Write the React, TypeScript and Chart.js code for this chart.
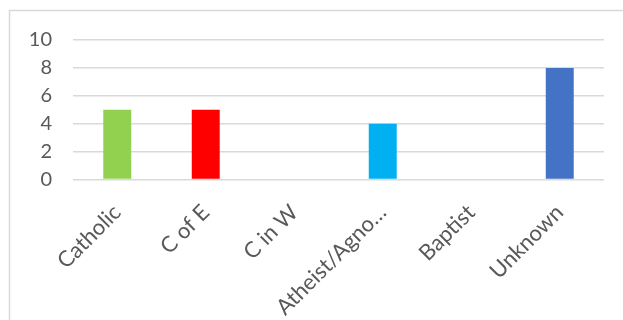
import React, { useEffect, useRef } from "react";
import { Chart, registerables } from "chart.js";

Chart.register(...registerables);

const categories = ["Catholic", "C of E", "C in W", "Atheist/Agno…", "Baptist", "Unknown"];
const values = [5, 5, 0, 4, 0, 8];
const barColors = ["#92D050", "#FF0000", "#FFC000", "#00B0F0", "#7030A0", "#4472C4"];
const yTicks = [0, 2, 4, 6, 8, 10];

const FONT = "Lato, 'Open Sans', sans-serif";

const borderPlugin = {
  id: "outerBorder",
  beforeDraw(chart: any) {
    const ctx = chart.ctx;
    ctx.save();
    ctx.strokeStyle = "#D9D9D9";
    ctx.lineWidth = 1.5;
    ctx.beginPath();
    ctx.moveTo(9.5, 400);
    ctx.lineTo(9.5, 10.5);
    ctx.lineTo(700, 10.5);
    ctx.stroke();
    ctx.restore();
  },
};

export default function App() {
  const ref = useRef<HTMLCanvasElement>(null);
  useEffect(() => {
    if (!ref.current) return;
    const chart = new Chart(ref.current, {
      type: "bar",
      data: {
        labels: categories,
        datasets: [
          {
            data: values,
            backgroundColor: barColors,
            categoryPercentage: 1,
            barPercentage: 0.316,
          },
        ],
      },
      options: {
        responsive: false,
        animation: false,
        devicePixelRatio: 1,
        layout: { padding: { left: 0, top: 40, right: 19, bottom: 0 } },
        plugins: { legend: { display: false }, tooltip: { enabled: false } },
        scales: {
          x: {
            grid: { display: false, drawTicks: false },
            border: { display: false },
            ticks: {
              autoSkip: false,
              minRotation: 45,
              maxRotation: 45,
              padding: 20,
              color: "#595959",
              font: { family: FONT, size: 22 },
            },
            afterFit: (axis: any) => {
              axis.height = 140.5;
            },
          },
          y: {
            min: 0,
            max: 10,
            afterBuildTicks: (axis: any) => {
              axis.ticks = yTicks.map((v) => ({ value: v }));
            },
            grid: { color: "#D9D9D9", lineWidth: 1.5, drawTicks: false },
            border: { display: false },
            ticks: {
              padding: 21,
              color: "#595959",
              font: { family: FONT, size: 20 },
            },
            afterFit: (axis: any) => {
              axis.width = 73;
            },
          },
        },
      },
      plugins: [borderPlugin],
    });
    return () => chart.destroy();
  }, []);
  return (
    <canvas
      ref={ref}
      width={623}
      height={320}
      style={{ position: "fixed", left: 0, top: 0, display: "block", background: "#fff" }}
    />
  );
}
